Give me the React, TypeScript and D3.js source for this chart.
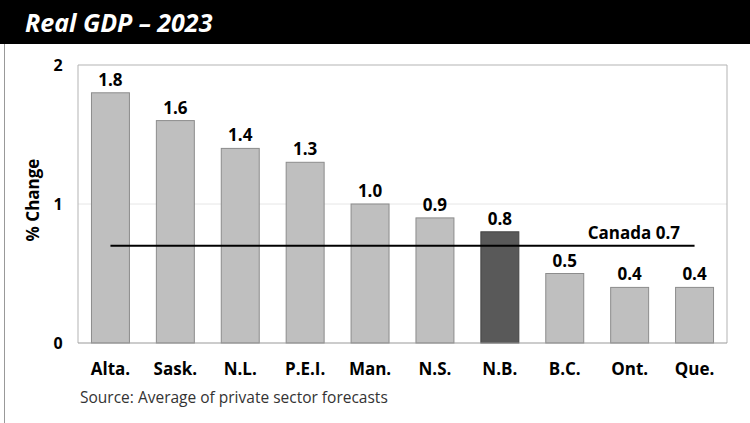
import { useEffect, useRef } from "react";
import * as d3 from "d3";

const provinces = ["Alta.", "Sask.", "N.L.", "P.E.I.", "Man.", "N.S.", "N.B.", "B.C.", "Ont.", "Que."];
const growth = [1.8, 1.6, 1.4, 1.3, 1.0, 0.9, 0.8, 0.5, 0.4, 0.4];
const highlight = "N.B.";
const canadaValue = 0.7;
const yTicks = [0, 1, 2];

const W = 750;
const H = 423;
const FONT = "'Open Sans', 'Noto Sans', sans-serif";

export default function App() {
  const svgRef = useRef<SVGSVGElement>(null);

  useEffect(() => {
    if (!svgRef.current) return;
    const svg = d3.select(svgRef.current);
    svg.selectAll("*").remove();

    const left = 78, right = 727, top = 65, bottom = 343;

    const x = d3.scaleBand<string>().domain(provinces).range([left, right]).paddingInner(0.415).paddingOuter(0.2075);
    const y = d3.scaleLinear().domain([0, 2]).range([bottom, top]);

    svg.append("rect").attr("width", W).attr("height", H).attr("fill", "#fff");

    // title bar
    svg.append("rect").attr("x", 0).attr("y", 0).attr("width", W).attr("height", 44).attr("fill", "#000");
    svg.append("text")
      .attr("x", 25).attr("y", 32)
      .attr("fill", "#fff")
      .style("font-family", FONT)
      .style("font-size", "25px")
      .style("font-weight", 700)
      .style("font-style", "italic")
      .text("Real GDP \u2013 2023");

    // left frame line
    svg.append("line").attr("x1", 4.5).attr("x2", 4.5).attr("y1", 44).attr("y2", H).attr("stroke", "#999").attr("stroke-width", 1);

    // gridline at 1
    svg.append("line").attr("x1", left).attr("x2", right).attr("y1", y(1)).attr("y2", y(1)).attr("stroke", "#e6e6e6");

    // plot frame
    svg.append("path")
      .attr("d", `M${left},${bottom}V${top}H${right}V${bottom}`)
      .attr("fill", "none").attr("stroke", "#b3b3b3").attr("stroke-width", 1);

    // y ticks
    svg.append("g").selectAll("text").data(yTicks).join("text")
      .attr("x", 58).attr("y", (d) => y(d) + 6)
      .attr("text-anchor", "middle")
      .style("font-family", FONT).style("font-size", "16px").style("font-weight", 700)
      .text((d) => d);

    svg.append("text")
      .attr("transform", `translate(39,${200}) rotate(-90)`)
      .attr("text-anchor", "middle")
      .style("font-family", FONT).style("font-size", "17px").style("font-weight", 700)
      .text("% Change");

    // bars
    svg.append("g").selectAll("rect").data(provinces).join("rect")
      .attr("x", (d) => x(d)!)
      .attr("y", (d, i) => y(growth[i]))
      .attr("width", x.bandwidth())
      .attr("height", (d, i) => bottom - y(growth[i]))
      .attr("fill", (d) => (d === highlight ? "#595959" : "#bfbfbf"))
      .attr("stroke", (d) => (d === highlight ? "#444" : "#8c8c8c"))
      .attr("stroke-width", 1);

    // bottom axis line
    svg.append("line").attr("x1", left).attr("x2", right).attr("y1", bottom).attr("y2", bottom).attr("stroke", "#999");

    // value labels
    svg.append("g").selectAll("text").data(provinces).join("text")
      .attr("x", (d) => x(d)! + x.bandwidth() / 2)
      .attr("y", (d, i) => y(growth[i]) - 7)
      .attr("text-anchor", "middle")
      .style("font-family", FONT).style("font-size", "17px").style("font-weight", 700)
      .text((d, i) => growth[i].toFixed(1));

    // category labels
    svg.append("g").selectAll("text").data(provinces).join("text")
      .attr("x", (d) => x(d)! + x.bandwidth() / 2)
      .attr("y", 375)
      .attr("text-anchor", "middle")
      .style("font-family", FONT).style("font-size", "17px").style("font-weight", 700)
      .text((d) => d);

    // Canada line
    const x0 = x(provinces[0])! + x.bandwidth() / 2;
    const x1 = x(provinces[provinces.length - 1])! + x.bandwidth() / 2;
    svg.append("line")
      .attr("x1", x0).attr("x2", x1)
      .attr("y1", y(canadaValue)).attr("y2", y(canadaValue))
      .attr("stroke", "#000").attr("stroke-width", 2);
    svg.append("text")
      .attr("x", 680).attr("y", y(canadaValue) - 7)
      .attr("text-anchor", "end")
      .style("font-family", FONT).style("font-size", "17px").style("font-weight", 700)
      .text(`Canada ${canadaValue}`);

    // source
    svg.append("text")
      .attr("x", 80).attr("y", 403)
      .attr("fill", "#333")
      .style("font-family", FONT).style("font-size", "15.5px")
      .text("Source: Average of private sector forecasts");
  }, []);

  return (
    <div style={{ position: "absolute", left: 0, top: 0 }}>
      <svg ref={svgRef} width={W} height={H} />
    </div>
  );
}
